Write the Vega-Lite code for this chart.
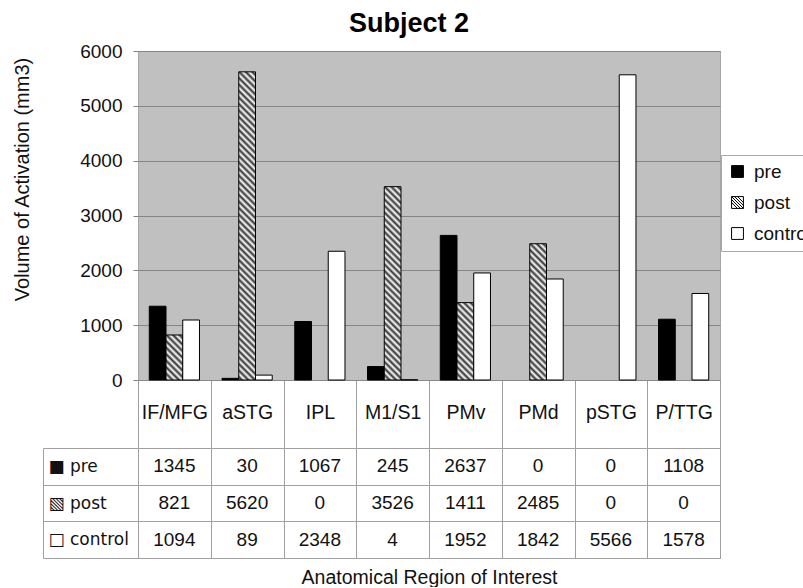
{
  "$schema": "https://vega.github.io/schema/vega-lite/v6.json",
  "background": "#ffffff",
  "padding": {"left": 11, "top": 9, "right": -12, "bottom": 0},
  "config": {"font": "Liberation Sans"},
  "datasets": {
    "roi": [
      {"region": "IF/MFG", "series": "pre", "value": 1345},
      {"region": "IF/MFG", "series": "post", "value": 821},
      {"region": "IF/MFG", "series": "control", "value": 1094},
      {"region": "aSTG", "series": "pre", "value": 30},
      {"region": "aSTG", "series": "post", "value": 5620},
      {"region": "aSTG", "series": "control", "value": 89},
      {"region": "IPL", "series": "pre", "value": 1067},
      {"region": "IPL", "series": "post", "value": 0},
      {"region": "IPL", "series": "control", "value": 2348},
      {"region": "M1/S1", "series": "pre", "value": 245},
      {"region": "M1/S1", "series": "post", "value": 3526},
      {"region": "M1/S1", "series": "control", "value": 4},
      {"region": "PMv", "series": "pre", "value": 2637},
      {"region": "PMv", "series": "post", "value": 1411},
      {"region": "PMv", "series": "control", "value": 1952},
      {"region": "PMd", "series": "pre", "value": 0},
      {"region": "PMd", "series": "post", "value": 2485},
      {"region": "PMd", "series": "control", "value": 1842},
      {"region": "pSTG", "series": "pre", "value": 0},
      {"region": "pSTG", "series": "post", "value": 0},
      {"region": "pSTG", "series": "control", "value": 5566},
      {"region": "P/TTG", "series": "pre", "value": 1108},
      {"region": "P/TTG", "series": "post", "value": 0},
      {"region": "P/TTG", "series": "control", "value": 1578}
    ]
  },
  "bounds": "flush",
  "spacing": 68,
  "vconcat": [
    {
      "width": 582,
      "height": 329,
      "view": {"fill": "#c0c0c0", "stroke": "#a6a6a6"},
      "title": {"text": "Subject 2", "fontSize": 27, "fontWeight": "bold", "color": "#000000", "dx": -20, "offset": 4},
      "data": {"name": "roi"},
      "transform": [{"filter": "datum.value > 0"}],
      "mark": {"type": "bar", "stroke": "#000000", "strokeWidth": 1},
      "encoding": {
        "x": {
          "field": "region",
          "type": "nominal",
          "sort": ["IF/MFG", "aSTG", "IPL", "M1/S1", "PMv", "PMd", "pSTG", "P/TTG"],
          "scale": {"paddingInner": 0, "paddingOuter": 0},
          "axis": {
            "title": null,
            "grid": false,
            "domain": true,
            "domainColor": "#888888",
            "ticks": true,
            "tickBand": "extent",
            "tickSize": 68,
            "tickColor": "#a0a0a0",
            "labelAngle": 0,
            "labelFontSize": 19.5,
            "labelColor": "#111111",
            "labelBaseline": "middle",
            "labelPadding": -36
          }
        },
        "xOffset": {
          "field": "series",
          "type": "nominal",
          "scale": {"domain": ["pre", "post", "control"], "paddingInner": 0, "paddingOuter": 0.674}
        },
        "y": {
          "field": "value",
          "type": "quantitative",
          "scale": {"domain": [0, 6000]},
          "axis": {
            "title": "Volume of Activation (mm3)",
            "titleFontSize": 20,
            "titleFontWeight": "normal",
            "titleColor": "#111111",
            "titleX": -106,
            "titleY": 128,
            "values": [0, 1000, 2000, 3000, 4000, 5000, 6000],
            "format": "d",
            "grid": true,
            "gridColor": "#858585",
            "domain": false,
            "ticks": true,
            "tickSize": 5,
            "tickColor": "#858585",
            "labelFontSize": 19,
            "labelColor": "#111111",
            "labelPadding": 11
          }
        },
        "fill": {
          "condition": [
            {"test": "datum.series === 'post' && datum.region === 'IF/MFG'", "value": {"gradient": "linear", "x1": 1, "y1": 0, "x2": -1.357, "y2": 6.343, "stops": [{"offset":0,"color":"#fff"},{"offset":0.01,"color":"#333"},{"offset":0.02,"color":"#fff"},{"offset":0.03,"color":"#333"},{"offset":0.04,"color":"#fff"},{"offset":0.05,"color":"#333"},{"offset":0.06,"color":"#fff"},{"offset":0.07,"color":"#333"},{"offset":0.08,"color":"#fff"},{"offset":0.09,"color":"#333"},{"offset":0.1,"color":"#fff"},{"offset":0.11,"color":"#333"},{"offset":0.12,"color":"#fff"},{"offset":0.13,"color":"#333"},{"offset":0.14,"color":"#fff"},{"offset":0.15,"color":"#333"},{"offset":0.16,"color":"#fff"},{"offset":0.17,"color":"#333"},{"offset":0.18,"color":"#fff"},{"offset":0.19,"color":"#333"},{"offset":0.2,"color":"#fff"}]}},
            {"test": "datum.series === 'post' && datum.region === 'aSTG'", "value": {"gradient": "linear", "x1": 1, "y1": 0, "x2": 0.9429, "y2": 1.0516, "stops": [{"offset":0,"color":"#fff"},{"offset":0.01,"color":"#333"},{"offset":0.02,"color":"#fff"},{"offset":0.03,"color":"#333"},{"offset":0.04,"color":"#fff"},{"offset":0.05,"color":"#333"},{"offset":0.06,"color":"#fff"},{"offset":0.07,"color":"#333"},{"offset":0.08,"color":"#fff"},{"offset":0.09,"color":"#333"},{"offset":0.1,"color":"#fff"},{"offset":0.11,"color":"#333"},{"offset":0.12,"color":"#fff"},{"offset":0.13,"color":"#333"},{"offset":0.14,"color":"#fff"},{"offset":0.15,"color":"#333"},{"offset":0.16,"color":"#fff"},{"offset":0.17,"color":"#333"},{"offset":0.18,"color":"#fff"},{"offset":0.19,"color":"#333"},{"offset":0.2,"color":"#fff"},{"offset":0.21,"color":"#333"},{"offset":0.22,"color":"#fff"},{"offset":0.23,"color":"#333"},{"offset":0.24,"color":"#fff"},{"offset":0.25,"color":"#333"},{"offset":0.26,"color":"#fff"},{"offset":0.27,"color":"#333"},{"offset":0.28,"color":"#fff"},{"offset":0.29,"color":"#333"},{"offset":0.3,"color":"#fff"},{"offset":0.31,"color":"#333"},{"offset":0.32,"color":"#fff"},{"offset":0.33,"color":"#333"},{"offset":0.34,"color":"#fff"},{"offset":0.35,"color":"#333"},{"offset":0.36,"color":"#fff"},{"offset":0.37,"color":"#333"},{"offset":0.38,"color":"#fff"},{"offset":0.39,"color":"#333"},{"offset":0.4,"color":"#fff"},{"offset":0.41,"color":"#333"},{"offset":0.42,"color":"#fff"},{"offset":0.43,"color":"#333"},{"offset":0.44,"color":"#fff"},{"offset":0.45,"color":"#333"},{"offset":0.46,"color":"#fff"},{"offset":0.47,"color":"#333"},{"offset":0.48,"color":"#fff"},{"offset":0.49,"color":"#333"},{"offset":0.5,"color":"#fff"},{"offset":0.51,"color":"#333"},{"offset":0.52,"color":"#fff"},{"offset":0.53,"color":"#333"},{"offset":0.54,"color":"#fff"},{"offset":0.55,"color":"#333"},{"offset":0.56,"color":"#fff"},{"offset":0.57,"color":"#333"},{"offset":0.58,"color":"#fff"},{"offset":0.59,"color":"#333"},{"offset":0.6,"color":"#fff"},{"offset":0.61,"color":"#333"},{"offset":0.62,"color":"#fff"},{"offset":0.63,"color":"#333"},{"offset":0.64,"color":"#fff"},{"offset":0.65,"color":"#333"},{"offset":0.66,"color":"#fff"},{"offset":0.67,"color":"#333"},{"offset":0.68,"color":"#fff"},{"offset":0.69,"color":"#333"},{"offset":0.7,"color":"#fff"},{"offset":0.71,"color":"#333"},{"offset":0.72,"color":"#fff"},{"offset":0.73,"color":"#333"},{"offset":0.74,"color":"#fff"},{"offset":0.75,"color":"#333"},{"offset":0.76,"color":"#fff"},{"offset":0.77,"color":"#333"},{"offset":0.78,"color":"#fff"},{"offset":0.79,"color":"#333"},{"offset":0.8,"color":"#fff"},{"offset":0.81,"color":"#333"},{"offset":0.82,"color":"#fff"},{"offset":0.83,"color":"#333"},{"offset":0.84,"color":"#fff"},{"offset":0.85,"color":"#333"},{"offset":0.86,"color":"#fff"},{"offset":0.87,"color":"#333"},{"offset":0.88,"color":"#fff"},{"offset":0.89,"color":"#333"},{"offset":0.9,"color":"#fff"},{"offset":0.91,"color":"#333"},{"offset":0.92,"color":"#fff"},{"offset":0.93,"color":"#333"},{"offset":0.94,"color":"#fff"},{"offset":0.95,"color":"#333"},{"offset":0.96,"color":"#fff"},{"offset":0.97,"color":"#333"},{"offset":0.98,"color":"#fff"},{"offset":0.99,"color":"#333"},{"offset":1,"color":"#fff"}]}},
            {"test": "datum.series === 'post' && datum.region === 'M1/S1'", "value": {"gradient": "linear", "x1": 1, "y1": 0, "x2": 0.8556, "y2": 1.6685, "stops": [{"offset":0,"color":"#fff"},{"offset":0.01,"color":"#333"},{"offset":0.02,"color":"#fff"},{"offset":0.03,"color":"#333"},{"offset":0.04,"color":"#fff"},{"offset":0.05,"color":"#333"},{"offset":0.06,"color":"#fff"},{"offset":0.07,"color":"#333"},{"offset":0.08,"color":"#fff"},{"offset":0.09,"color":"#333"},{"offset":0.1,"color":"#fff"},{"offset":0.11,"color":"#333"},{"offset":0.12,"color":"#fff"},{"offset":0.13,"color":"#333"},{"offset":0.14,"color":"#fff"},{"offset":0.15,"color":"#333"},{"offset":0.16,"color":"#fff"},{"offset":0.17,"color":"#333"},{"offset":0.18,"color":"#fff"},{"offset":0.19,"color":"#333"},{"offset":0.2,"color":"#fff"},{"offset":0.21,"color":"#333"},{"offset":0.22,"color":"#fff"},{"offset":0.23,"color":"#333"},{"offset":0.24,"color":"#fff"},{"offset":0.25,"color":"#333"},{"offset":0.26,"color":"#fff"},{"offset":0.27,"color":"#333"},{"offset":0.28,"color":"#fff"},{"offset":0.29,"color":"#333"},{"offset":0.3,"color":"#fff"},{"offset":0.31,"color":"#333"},{"offset":0.32,"color":"#fff"},{"offset":0.33,"color":"#333"},{"offset":0.34,"color":"#fff"},{"offset":0.35,"color":"#333"},{"offset":0.36,"color":"#fff"},{"offset":0.37,"color":"#333"},{"offset":0.38,"color":"#fff"},{"offset":0.39,"color":"#333"},{"offset":0.4,"color":"#fff"},{"offset":0.41,"color":"#333"},{"offset":0.42,"color":"#fff"},{"offset":0.43,"color":"#333"},{"offset":0.44,"color":"#fff"},{"offset":0.45,"color":"#333"},{"offset":0.46,"color":"#fff"},{"offset":0.47,"color":"#333"},{"offset":0.48,"color":"#fff"},{"offset":0.49,"color":"#333"},{"offset":0.5,"color":"#fff"},{"offset":0.51,"color":"#333"},{"offset":0.52,"color":"#fff"},{"offset":0.53,"color":"#333"},{"offset":0.54,"color":"#fff"},{"offset":0.55,"color":"#333"},{"offset":0.56,"color":"#fff"},{"offset":0.57,"color":"#333"},{"offset":0.58,"color":"#fff"},{"offset":0.59,"color":"#333"},{"offset":0.6,"color":"#fff"},{"offset":0.61,"color":"#333"},{"offset":0.62,"color":"#fff"},{"offset":0.63,"color":"#333"},{"offset":0.64,"color":"#fff"},{"offset":0.65,"color":"#333"},{"offset":0.66,"color":"#fff"}]}},
            {"test": "datum.series === 'post' && datum.region === 'PMv'", "value": {"gradient": "linear", "x1": 1, "y1": 0, "x2": 0.1323, "y2": 4.013, "stops": [{"offset":0,"color":"#fff"},{"offset":0.01,"color":"#333"},{"offset":0.02,"color":"#fff"},{"offset":0.03,"color":"#333"},{"offset":0.04,"color":"#fff"},{"offset":0.05,"color":"#333"},{"offset":0.06,"color":"#fff"},{"offset":0.07,"color":"#333"},{"offset":0.08,"color":"#fff"},{"offset":0.09,"color":"#333"},{"offset":0.1,"color":"#fff"},{"offset":0.11,"color":"#333"},{"offset":0.12,"color":"#fff"},{"offset":0.13,"color":"#333"},{"offset":0.14,"color":"#fff"},{"offset":0.15,"color":"#333"},{"offset":0.16,"color":"#fff"},{"offset":0.17,"color":"#333"},{"offset":0.18,"color":"#fff"},{"offset":0.19,"color":"#333"},{"offset":0.2,"color":"#fff"},{"offset":0.21,"color":"#333"},{"offset":0.22,"color":"#fff"},{"offset":0.23,"color":"#333"},{"offset":0.24,"color":"#fff"},{"offset":0.25,"color":"#333"},{"offset":0.26,"color":"#fff"},{"offset":0.27,"color":"#333"},{"offset":0.28,"color":"#fff"},{"offset":0.29,"color":"#333"},{"offset":0.3,"color":"#fff"}]}},
            {"test": "datum.series === 'post' && datum.region === 'PMd'", "value": {"gradient": "linear", "x1": 1, "y1": 0, "x2": 0.7115, "y2": 2.3497, "stops": [{"offset":0,"color":"#fff"},{"offset":0.01,"color":"#333"},{"offset":0.02,"color":"#fff"},{"offset":0.03,"color":"#333"},{"offset":0.04,"color":"#fff"},{"offset":0.05,"color":"#333"},{"offset":0.06,"color":"#fff"},{"offset":0.07,"color":"#333"},{"offset":0.08,"color":"#fff"},{"offset":0.09,"color":"#333"},{"offset":0.1,"color":"#fff"},{"offset":0.11,"color":"#333"},{"offset":0.12,"color":"#fff"},{"offset":0.13,"color":"#333"},{"offset":0.14,"color":"#fff"},{"offset":0.15,"color":"#333"},{"offset":0.16,"color":"#fff"},{"offset":0.17,"color":"#333"},{"offset":0.18,"color":"#fff"},{"offset":0.19,"color":"#333"},{"offset":0.2,"color":"#fff"},{"offset":0.21,"color":"#333"},{"offset":0.22,"color":"#fff"},{"offset":0.23,"color":"#333"},{"offset":0.24,"color":"#fff"},{"offset":0.25,"color":"#333"},{"offset":0.26,"color":"#fff"},{"offset":0.27,"color":"#333"},{"offset":0.28,"color":"#fff"},{"offset":0.29,"color":"#333"},{"offset":0.3,"color":"#fff"},{"offset":0.31,"color":"#333"},{"offset":0.32,"color":"#fff"},{"offset":0.33,"color":"#333"},{"offset":0.34,"color":"#fff"},{"offset":0.35,"color":"#333"},{"offset":0.36,"color":"#fff"},{"offset":0.37,"color":"#333"},{"offset":0.38,"color":"#fff"},{"offset":0.39,"color":"#333"},{"offset":0.4,"color":"#fff"},{"offset":0.41,"color":"#333"},{"offset":0.42,"color":"#fff"},{"offset":0.43,"color":"#333"},{"offset":0.44,"color":"#fff"},{"offset":0.45,"color":"#333"},{"offset":0.46,"color":"#fff"},{"offset":0.47,"color":"#333"},{"offset":0.48,"color":"#fff"}]}}
          ],
          "field": "series",
          "type": "nominal",
          "scale": {"domain": ["pre", "post", "control"], "range": ["#000000", "#ffffff", "#ffffff"]},
          "legend": {
            "title": null,
            "orient": "none",
            "legendX": 583,
            "legendY": 104,
            "symbolType": "square",
            "symbolSize": 140,
            "symbolStrokeColor": "#000000",
            "symbolStrokeWidth": 1,
            "labelFontSize": 19,
            "labelColor": "#111111",
            "labelOffset": 7,
            "rowPadding": 11,
            "padding": 7,
            "strokeColor": "#aaaaaa",
            "fillColor": "#ffffff",
            "encode": {
              "symbols": {
                "update": {
                  "shape": {"signal": "datum.value === 'post' ? 'M-1,-1H1V1H-1Z M-1,-1L1,1 M-1,-0.5L0.5,1 M-1,0L0,1 M-0.5,-1L1,0.5 M0,-1L1,0' : 'square'"}
                }
              }
            }
          }
        }
      }
    },
    {
      "width": 582,
      "height": 110,
      "view": {"fill": "#ffffff", "stroke": "#a0a0a0"},
      "data": {"name": "roi"},
      "mark": {"type": "text", "fontSize": 19, "color": "#111111"},
      "encoding": {
        "x": {
          "field": "region",
          "type": "nominal",
          "sort": ["IF/MFG", "aSTG", "IPL", "M1/S1", "PMv", "PMd", "pSTG", "P/TTG"],
          "scale": {"type": "band", "paddingInner": 0, "paddingOuter": 0},
          "axis": {
            "orient": "bottom",
            "title": "Anatomical Region of Interest",
            "titleFontSize": 19.5,
            "titleFontWeight": "normal",
            "titleColor": "#111111",
            "titlePadding": 10,
            "grid": true,
            "gridColor": "#a0a0a0",
            "tickBand": "extent",
            "ticks": false,
            "labels": false,
            "domain": false
          }
        },
        "y": {
          "field": "series",
          "type": "nominal",
          "sort": ["pre", "post", "control"],
          "scale": {"type": "band", "paddingInner": 0, "paddingOuter": 0},
          "axis": {
            "title": null,
            "orient": "left",
            "offset": 95,
            "domain": true,
            "domainColor": "#a0a0a0",
            "ticks": true,
            "tickBand": "extent",
            "tickSize": -95,
            "tickColor": "#a0a0a0",
            "grid": true,
            "gridColor": "#a0a0a0",
            "labelAlign": "left",
            "labelPadding": 90,
            "labelFont": "DejaVu Sans",
            "labelFontSize": 17,
            "labelColor": "#111111",
            "labelExpr": "datum.value === 'pre' ? '■ pre' : datum.value === 'post' ? '▧ post' : datum.value === 'control' ? '□ control' : ''"
          }
        },
        "text": {"field": "value", "type": "quantitative", "format": "d"}
      }
    }
  ]
}
